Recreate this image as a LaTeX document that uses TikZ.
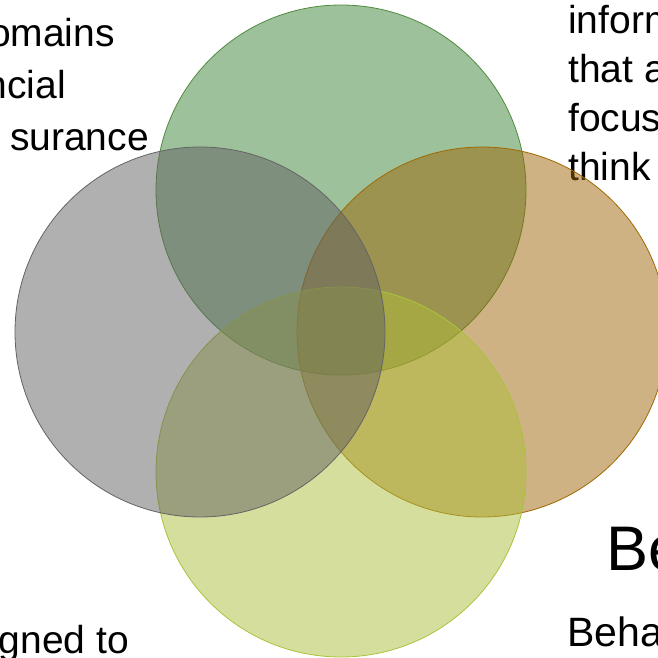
\documentclass[tikz,border=0pt]{standalone}
\usepackage{fontspec}
\setmainfont{Liberation Sans}
\usepackage{tikz}

\definecolor{setgreen}{RGB}{59,131,55}
\definecolor{setgreenline}{RGB}{80,140,60}
\definecolor{setorange}{RGB}{157,101,7}
\definecolor{setorangeline}{RGB}{160,105,0}
\definecolor{setyellow}{RGB}{173,189,59}
\definecolor{setyellowline}{RGB}{170,195,60}
\definecolor{setgray}{RGB}{97,97,97}
\definecolor{setgrayline}{RGB}{100,100,100}

\begin{document}
\begin{tikzpicture}[x=1pt, y=-1pt,
	txt/.style={font=\fontsize{39}{49}\selectfont, inner sep=0pt},
	set/.style={fill opacity=0.5, draw opacity=1, line width=0.8pt}]
	\useasboundingbox (0,0) rectangle (658,658);
	%\draw[help lines] (0,0) grid[step=50pt] (658,658);
	% texts behind the circles
	\node[txt, anchor=base east] (domains) at (115,47) {omains};
	\node[txt, anchor=base east] (financial) at (66,99) {ncial};
	\node[txt, anchor=base east] (insurance) at (149,150) {surance};
	\node[txt, anchor=base west, align=left] (inform) at (568,180) {inform\\that a\\focus\\think};
	\node[txt, anchor=base east] (designed) at (129,653) {gned to};
	\node[anchor=base west, inner sep=0pt, font=\fontsize{63}{75}\selectfont] (title) at (606,570) {Be};
	\node[anchor=base west, inner sep=0pt, font=\fontsize{41}{49}\selectfont] (behave) at (567,646) {Beha};
	% the four sets
	\draw[set, fill=setgreen, draw=setgreenline] (341,190) circle [radius=185pt];
	\draw[set, fill=setorange, draw=setorangeline] (482,332) circle [radius=185pt];
	\draw[set, fill=setyellow, draw=setyellowline] (341,472) circle [radius=185pt];
	\draw[set, fill=setgray, draw=setgrayline] (200,332) circle [radius=185pt];
\end{tikzpicture}
\end{document}
